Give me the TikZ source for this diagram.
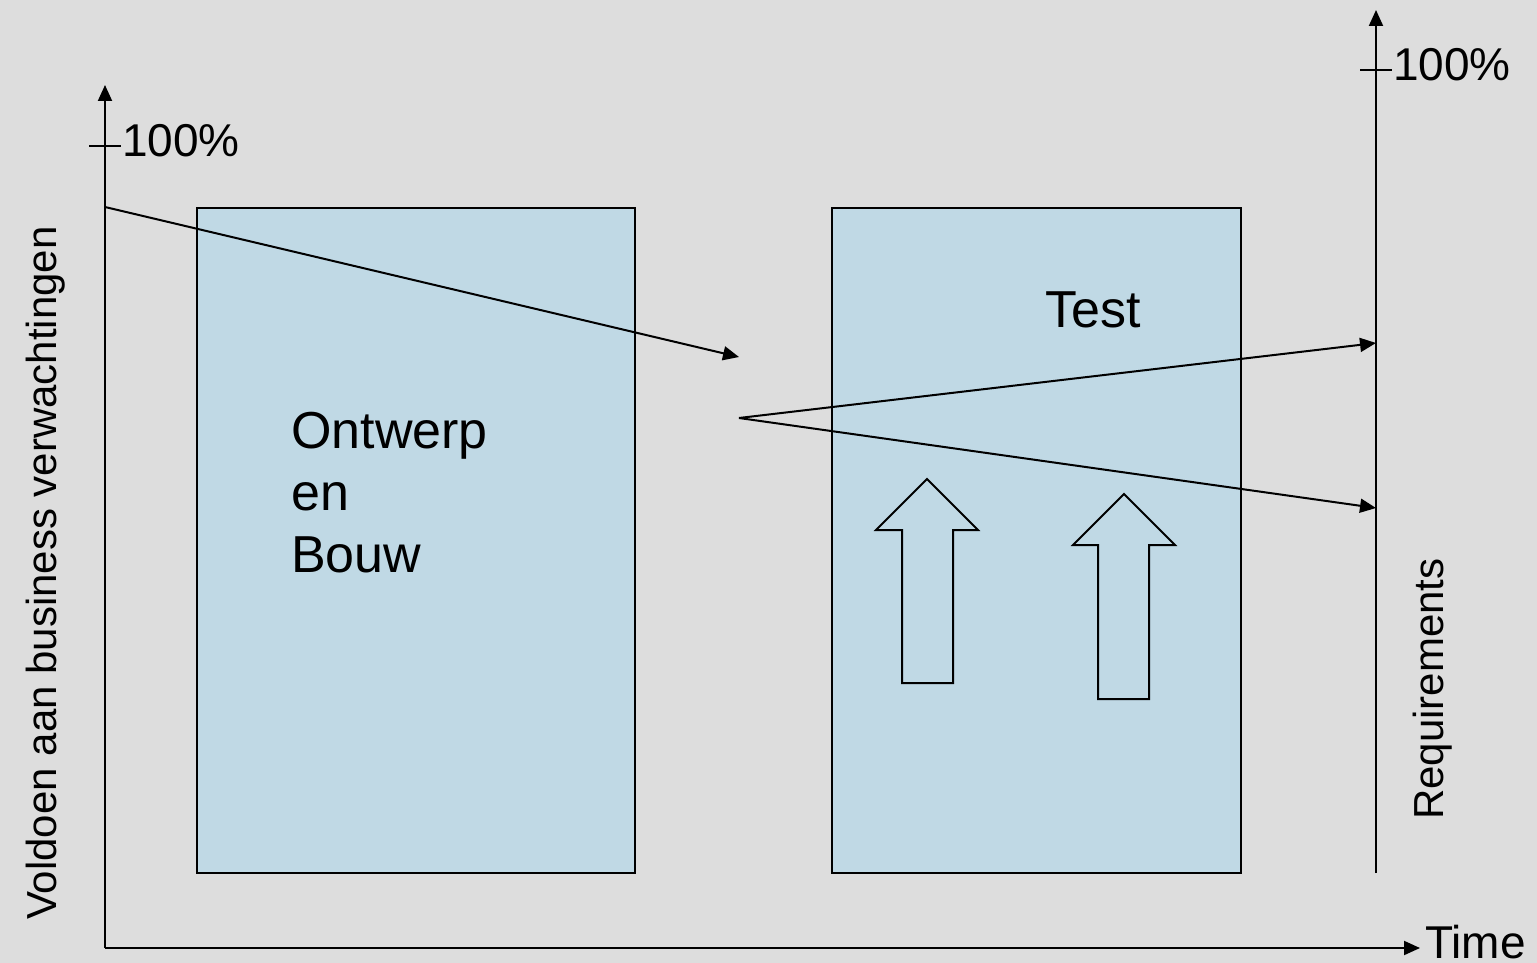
\documentclass[tikz,border=0pt]{standalone}
\usepackage{fontspec}
\setmainfont{Liberation Sans}
\usetikzlibrary{arrows.meta}
\definecolor{bg}{RGB}{221,221,221}
\definecolor{boxfill}{RGB}{192,217,229}
\begin{document}
\begin{tikzpicture}[x=1pt,y=-1pt,
  ln/.style={line width=2pt, draw=black},
  arr/.style={ln, -{Triangle[length=16pt,width=14pt]}},
  phase/.style={draw=black, line width=2pt, fill=boxfill, inner sep=0pt, anchor=north west},
  tick/.style={line width=1.6pt, draw=black},
  big/.style={inner sep=0pt, font=\fontsize{52}{62}\selectfont},
  mid/.style={inner sep=0pt, font=\fontsize{46}{55}\selectfont},
  side/.style={inner sep=0pt, font=\fontsize{42}{50}\selectfont, rotate=90, anchor=base},
  uparrow/.style={line width=2pt, draw=black, line join=miter},
]
\fill[bg] (0,0) rectangle (1537,963);
\useasboundingbox (0,0) rectangle (1537,963);

% phases
\node[phase, minimum width=438pt, minimum height=665pt] (ob) at (196,207) {};
\node[phase, minimum width=409pt, minimum height=665pt] (test) at (831,207) {};

% axes
\coordinate (o) at (105,948);
\coordinate (ytop) at (105,85);
\coordinate (xend) at (1420,948);
\coordinate (rbot) at (1376,873);
\coordinate (rtop) at (1376,10);
\draw[arr] (o) -- (ytop);
\draw[arr] (o) -- (xend);
\draw[arr] (rbot) -- (rtop);

% ticks
\coordinate (lt1) at (89,146);
\coordinate (lt2) at (121,146);
\coordinate (rt1) at (1360,70);
\coordinate (rt2) at (1392,70);
\draw[tick] (lt1) -- (lt2);
\draw[tick] (rt1) -- (rt2);

% texts
\node[mid, anchor=base west] (lp) at (122,157) {100\%};
\node[mid, anchor=base west] (rp) at (1393,81) {100\%};
\node[mid, anchor=base west] (time) at (1425,958) {Time};
\node[big, anchor=north west, align=left] (obt) at (291,412) {Ontwerp\\en\\Bouw};
\node[big, anchor=base west] (testt) at (1045,327) {Test};
\node[side] (yl) at (56,573) {Voldoen aan business verwachtingen};
\node[side] (req) at (1443,689) {Requirements};

% trend lines
\coordinate (s1) at (105,207);
\coordinate (e1) at (739,357);
\coordinate (s2) at (739,418);
\coordinate (e2) at (1376,343);
\coordinate (e3) at (1376,508);
\draw[arr] (s1) -- (e1);
\draw[arr] (s2) -- (e2);
\draw[arr] (s2) -- (e3);

% up arrows
\draw[uparrow] (927,479) -- (978,530) -- (953,530) -- (953,683) -- (902,683) -- (902,530) -- (876,530) -- cycle;
\draw[uparrow] (1124,494) -- (1175,545) -- (1149,545) -- (1149,699) -- (1098,699) -- (1098,545) -- (1073,545) -- cycle;
\end{tikzpicture}
\end{document}
